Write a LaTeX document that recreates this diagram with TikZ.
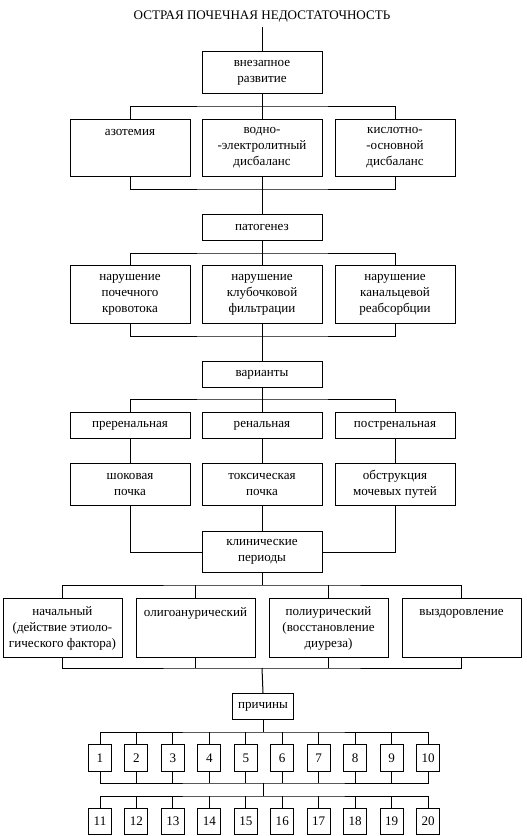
\documentclass[tikz,border=0pt]{standalone}
\usepackage{fontspec}
\setmainfont{Liberation Serif}

\begin{document}
\begin{tikzpicture}[
    x=0.75pt, y=-0.75pt,
    every node/.style={font=\fontsize{9.8}{12}\selectfont},
    box/.style={draw, line width=0.75pt, inner sep=0pt, align=center,
        anchor=north, minimum width=90pt},
    ht/.style={minimum height=#1*0.75pt},
    wd/.style={minimum width=#1*0.75pt},
    link/.style={line width=0.75pt}
]

\useasboundingbox (0,0) rectangle (527,836);

% Parameters (column centres)
\def\xL{130}
\def\xM{262}
\def\xR{395}

% === Title ===
\node[anchor=base, text depth=0pt, inner ysep=6pt] (title) at (\xM,19)
    {ОСТРАЯ ПОЧЕЧНАЯ НЕДОСТАТОЧНОСТЬ};

% === Onset and signs ===
\node[box, ht=42] (dev) at (\xM,51) {внезапное\\развитие};
\node[box, ht=57] (az)  at (\xL,119) {азотемия\\~\\~};
\node[box, ht=57] (vep) at (\xM,119) {водно-\\-электролитный\\дисбаланс};
\node[box, ht=57] (kos) at (\xR,119) {кислотно-\\-основной\\дисбаланс};

% === Pathogenesis ===
\node[box, ht=26] (pat) at (\xM,214) {патогенез};
\node[box, ht=58] (np) at (\xL,265) {нарушение\\почечного\\кровотока};
\node[box, ht=58] (nk) at (\xM,265) {нарушение\\клубочковой\\фильтрации};
\node[box, ht=58] (nr) at (\xR,265) {нарушение\\канальцевой\\реабсорбции};

% === Variants ===
\node[box, ht=26] (var)  at (\xM,361) {варианты};
\node[box, ht=26] (pre)  at (\xL,412) {преренальная};
\node[box, ht=26] (ren)  at (\xM,412) {ренальная};
\node[box, ht=26] (post) at (\xR,412) {постренальная};
\node[box, ht=42] (shok) at (\xL,463) {шоковая\\почка};
\node[box, ht=42] (tox)  at (\xM,463) {токсическая\\почка};
\node[box, ht=42] (obs)  at (\xR,463) {обструкция\\мочевых путей};

% === Clinical periods ===
\node[box, ht=41] (klin) at (\xM,531) {клинические\\периоды};
\node[box, ht=59, wd=119] (nach) at (62.5,598)
    {начальный\\(действие этиоло-\\гического фактора)};
\node[box, ht=59, wd=119] (olig) at (195.5,598) {олигоанурический\\~\\~};
\node[box, ht=59, wd=119] (poli) at (328.5,598)
    {полиурический\\(восстановление\\диуреза)};
\node[box, ht=59, wd=119] (vyz)  at (461.5,598) {выздоровление\\~\\~};

% === Causes ===
\node[box, ht=26, wd=61] (prich) at (263,693) {причины};
\foreach \i in {1,...,10} {
    \pgfmathsetmacro{\cx}{100+(\i-1)*36.45}
    \pgfmathtruncatemacro{\j}{\i+10}
    \node[box, ht=27, wd=23] (c\i) at (\cx,744) {\i};
    \node[box, ht=26, wd=23] (c\j) at (\cx,808) {\j};
}

% bus junctions
\coordinate (b1) at (\xM,106);
\coordinate (b2) at (\xM,189);
\coordinate (b3) at (\xM,253);
\coordinate (b4) at (\xM,336);
\coordinate (b5) at (\xM,399);
\coordinate (b6) at (\xM,585);
\coordinate (b7) at (\xM,668);
\coordinate (b8) at (263,732);
\coordinate (b9) at (263,783);
\coordinate (b10) at (263,796);

% === Connectors ===
\draw[link] (title.south) -- (dev.north);
\draw[link] (az.north) |- (b1) -| (kos.north);
\draw[link] (dev.south) -- (vep.north);
\draw[link] (az.south) |- (b2) -| (kos.south);
\draw[link] (vep.south) -- (pat.north);

\draw[link] (np.north) |- (b3) -| (nr.north);
\draw[link] (pat.south) -- (nk.north);
\draw[link] (np.south) |- (b4) -| (nr.south);
\draw[link] (nk.south) -- (var.north);

\draw[link] (pre.north) |- (b5) -| (post.north);
\draw[link] (var.south) -- (ren.north);
\draw[link] (pre) -- (shok);
\draw[link] (ren) -- (tox);
\draw[link] (post) -- (obs);
\draw[link] (shok.south) |- (klin.west);
\draw[link] (obs.south) |- (klin.east);
\draw[link] (tox) -- (klin);

\draw[link] (nach.north) |- (b6) -| (vyz.north);
\draw[link] (olig.north) -- (olig.north |- b6);
\draw[link] (poli.north) -- (poli.north |- b6);
\draw[link] (klin.south) -- (b6);
\draw[link] (nach.south) |- (b7) -| (vyz.south);
\draw[link] (olig.south) -- (olig.south |- b7);
\draw[link] (poli.south) -- (poli.south |- b7);
\draw[link] (b7) -- (prich.north);

\draw[link] (c1.north) |- (b8) -| (c10.north);
\draw[link] (prich.south) -- (b8);
\draw[link] (c1.south) |- (b9) -| (c10.south);
\draw[link] (b9) -- (b10);
\draw[link] (c11.north) |- (b10) -| (c20.north);
\foreach \i in {2,...,9} {
    \pgfmathtruncatemacro{\j}{\i+10}
    \draw[link] (c\i.north) -- (c\i.north |- b8);
    \draw[link] (c\i.south) -- (c\i.south |- b9);
    \draw[link] (c\j.north) -- (c\j.north |- b10);
}

\end{tikzpicture}
\end{document}
